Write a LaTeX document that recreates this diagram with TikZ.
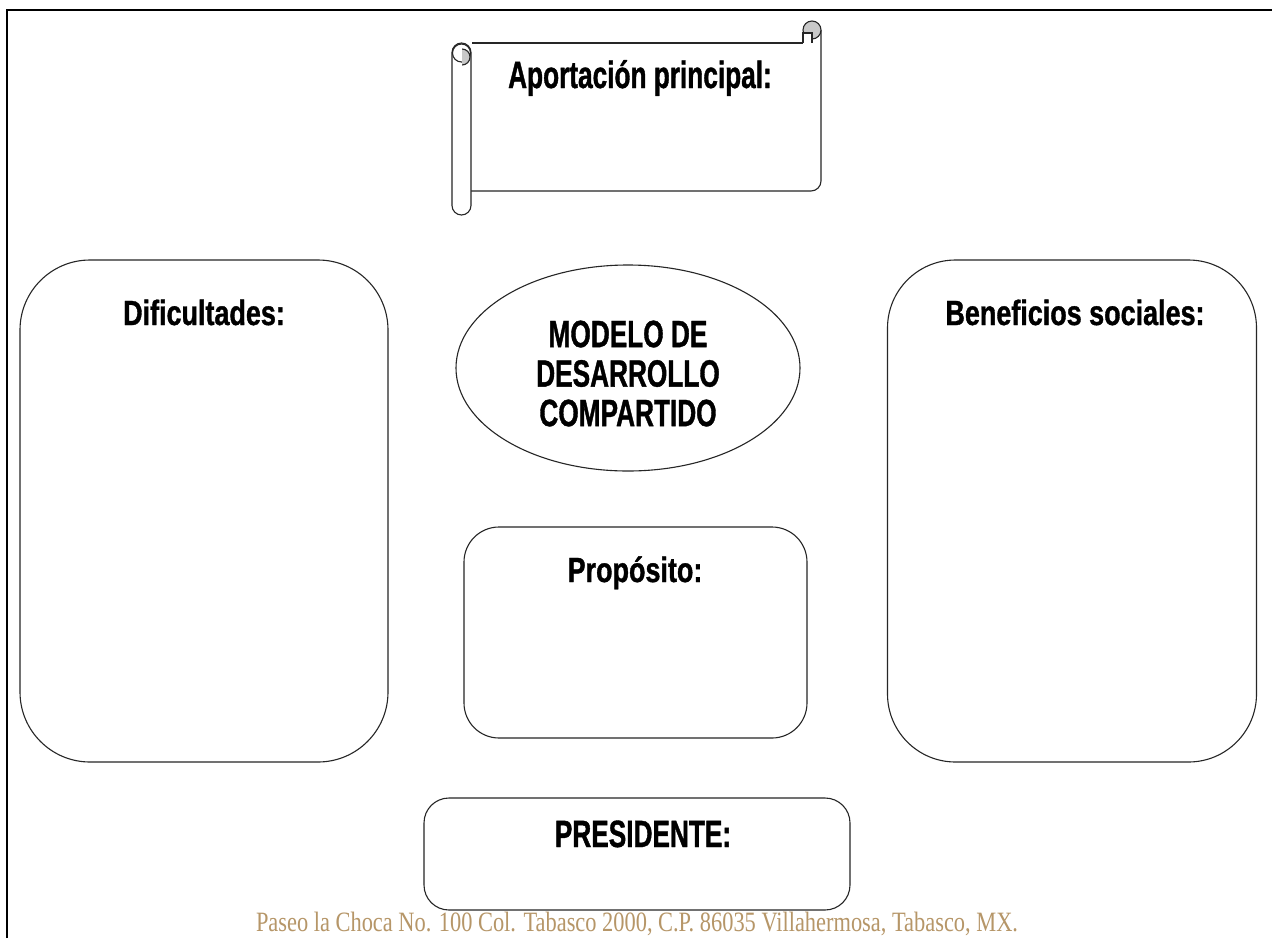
\documentclass[tikz,border=0pt]{standalone}
\usepackage{fontspec}
\setmainfont{Liberation Sans}
\newfontfamily\boxfont[FakeStretch=0.77,FakeBold=1]{Liberation Sans}
\newfontfamily\tallfont[FakeStretch=0.69,FakeBold=1]{Liberation Sans}
\newfontfamily\footfont[FakeStretch=0.8]{Liberation Serif}
\usetikzlibrary{shapes.geometric}
\definecolor{footertan}{RGB}{182,150,104}
\definecolor{curlgray}{RGB}{200,200,200}

\begin{document}
\begin{tikzpicture}[x=1pt,y=-1pt,
  panel/.style={draw=black!85, line width=1.1pt, rounded corners=#1},
  scrollline/.style={draw=black!85, line width=1.1pt},
  heading/.style={font=\boxfont\bfseries\fontsize{35}{42}\selectfont, inner sep=0pt, anchor=base},
  bigheading/.style={font=\tallfont\bfseries\fontsize{38}{39.5}\selectfont, inner sep=0pt, align=center},
  ]
  \useasboundingbox[fill=white] (0,0) rectangle (1272,938);
  \newcommand{\panelbox}[5]{\node[panel=#5, minimum width=#3pt, minimum height=#4pt] (#1) at #2 {};}

  \draw[line width=2pt] (7,938) -- (7,10) -- (1272,10);

  \draw[scrollline] (472,43) -- (803,43);
  \draw[scrollline, rounded corners=10] (821,30) -- (821,191) -- (470,191);
  \draw[scrollline, fill=curlgray] (812,30) circle[radius=9];
  \draw[scrollline, fill=white] (803,43) -- (803,33) -- (812,33) -- (812,43);
  \draw[scrollline, fill=white, rounded corners=9.5] (452,43) rectangle (471,215);
  \draw[scrollline] (461.5,53) circle[radius=9];
  \begin{scope}
    \clip (462,40) rectangle (475,70);
    \draw[scrollline, fill=curlgray] (462,57) circle[radius=8];
  \end{scope}
  \node[heading, font=\tallfont\bfseries\fontsize{38}{40}\selectfont] (aportacion) at (640,88) {Aportación principal:};

  \panelbox{dificultades}{(204,511)}{368}{502}{70}
  \panelbox{beneficios}{(1072,511)}{369}{502}{68}
  \panelbox{proposito}{(635.5,632.5)}{343}{211}{35}
  \panelbox{presidente}{(637,854)}{426}{112}{25}
  \node[ellipse, draw=black!85, line width=1.1pt, minimum width=344pt, minimum height=206pt] (modelo) at (628,368) {};

  \node[heading] (diflabel) at (204,325) {Dificultades:};
  \node[heading] (benlabel) at (1075,325) {Beneficios sociales:};
  \node[heading] (proplabel) at (635,582) {Propósito:};
  \node[bigheading, anchor=base] (preslabel) at (643,847) {PRESIDENTE:};
  \node[bigheading] (modelolabel) at ([yshift=-5.5pt]modelo.center) {MODELO DE\\DESARROLLO\\COMPARTIDO};

  \node[font=\footfont\fontsize{28}{30}\selectfont, text=footertan, anchor=base, inner sep=0pt] (footer) at (637,931)
    {Paseo la Choca No. 100 Col. Tabasco 2000, C.P. 86035 Villahermosa, Tabasco, MX.};
\end{tikzpicture}
\end{document}
